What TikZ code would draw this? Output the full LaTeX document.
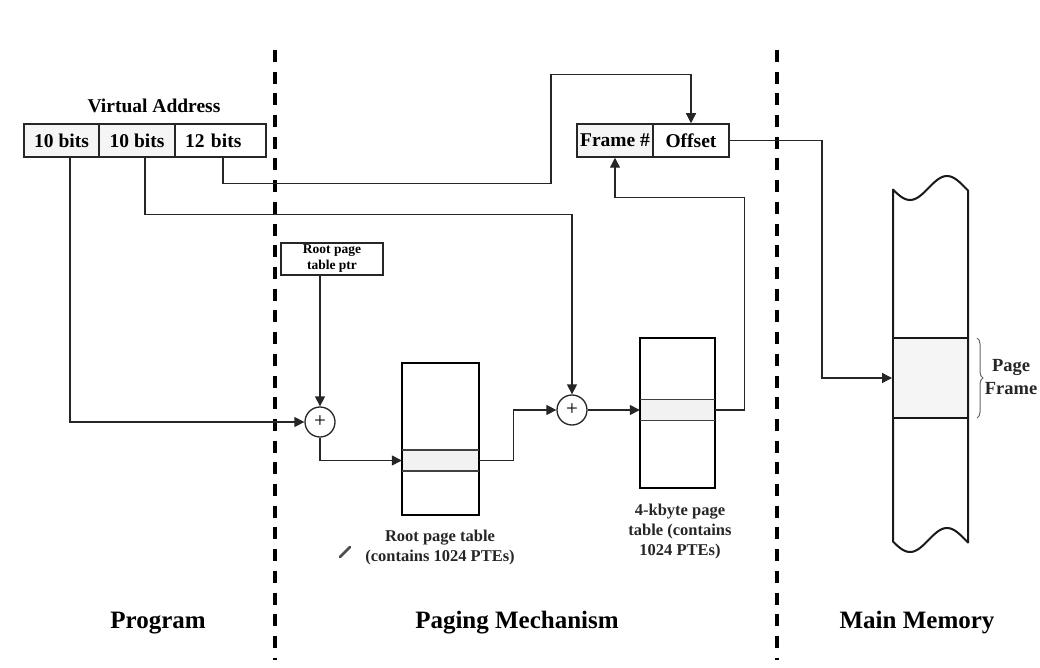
\documentclass[tikz,border=0pt]{standalone}
\usepackage{fontspec}
\setmainfont{Liberation Serif}
\usetikzlibrary{arrows.meta,calc,decorations.pathreplacing}
\begin{document}
\begin{tikzpicture}[x=1pt,y=-1pt,
  ln/.style={draw=black!85, line width=1.3pt},
  arr/.style={ln,-{Triangle[length=10pt,width=10pt]}},
  cell/.style={draw=black!85, line width=1.5pt, minimum height=33pt, inner sep=0pt, font=\fontsize{19.5}{21}\selectfont\bfseries},
  tbl/.style={draw=black, line width=2.5pt, inner sep=0pt},
  ent/.style={fill=black!5, inner sep=0pt, minimum height=21pt},
  entline/.style={draw=black!75, line width=1.5pt},
  adder/.style={circle, draw=black!85, fill=white, line width=1.3pt, minimum size=30pt, inner sep=0pt, font=\fontsize{21}{21}\selectfont},
  divider/.style={line width=4.5pt, dash pattern=on 12pt off 9.7pt},
  lbl/.style={font=\fontsize{16.5}{20}\selectfont\bfseries, align=center, text=black!85},
  sect/.style={font=\fontsize{25}{28}\selectfont\bfseries},
  mem/.style={draw=black!90, line width=2pt, line join=round}
]
\useasboundingbox (0,0) rectangle (1040,668);

% section dividers
\draw[divider] (275,50) -- (275,660);
\draw[divider] (777,50) -- (777,660);

% virtual address
\node[anchor=base, font=\fontsize{19.5}{21}\selectfont\bfseries] (vat) at (154,113) {Virtual Address};
\node[cell, fill=black!4, minimum width=75pt] (va1) at (61.5,140.5) {10 bits};
\node[cell, fill=black!4, minimum width=76pt] (va2) at (137,140.5) {10 bits};
\node[cell, fill=white, minimum width=91pt, text width=71pt, align=left, inner xsep=10pt] (va3) at (220.5,140.5) {12 bits};

% physical address
\node[cell, fill=black!4, minimum width=76pt] (frm) at (615,140.5) {Frame \#};
\node[cell, fill=white, minimum width=76pt] (off) at (691,140.5) {Offset};

% root page table pointer
\node[draw=black!85, line width=1.3pt, minimum width=102pt, minimum height=32pt, inner sep=0pt, align=center,
      font=\fontsize{13.5}{16}\selectfont\bfseries] (ptr) at (332,259) {Root page\\table ptr};

% adders
\node[adder] (add1) at (320,422) {+};
\node[adder] (add2) at (572,410) {+};

% root page table
\node[ent, minimum width=77pt] (rent) at (440.5,460.5) {};
\node[tbl, minimum width=77pt, minimum height=152pt] (rpt) at (440.5,439) {};
\draw[entline] (rent.north west) -- (rent.north east) (rent.south west) -- (rent.south east);
\node[lbl] (rptl) at (440,548) {Root page table\\(contains 1024 PTEs)};

% 4-kbyte page table
\node[ent, minimum width=75pt] (pent) at (677.5,410) {};
\node[tbl, minimum width=75pt, minimum height=150pt] (pt2) at (677.5,413) {};
\draw[entline] (pent.north west) -- (pent.north east) (pent.south west) -- (pent.south east);
\node[lbl] (pt2l) at (680,532) {4-kbyte page\\table (contains\\1024 PTEs)};

% main memory
\draw[mem, fill=white] plot[domain=-17:58, samples=60] ({910+\x},{188+12*cos(4.8649*\x)})
   -- (968,542.5) -- plot[domain=58:-17, samples=60] ({910+\x},{540+12*cos(4.8649*\x)}) -- cycle;
\node[draw=black!90, line width=2pt, fill=black!4, inner sep=0pt, minimum width=75pt, minimum height=80pt] (mfr) at (930.5,378) {};
\draw[decorate, decoration={brace, amplitude=6pt}, draw=black!60, line width=1pt] (977,338) -- (977,418);
\node[font=\fontsize{18.5}{23}\selectfont\bfseries, align=center, text=black!85] (pf) at (1011,377) {Page\\Frame};

% connectors
\draw[arr] ($(va1.south)+(8.5,0)$) |- (add1.west);
\draw[arr] ($(va2.south)+(8,0)$) -- ++(0,57) -| (add2.north);
\draw[arr] ($(va3.south)+(2.5,0)$) -- ++(0,26) -- ++(328,0) |- ($(off.north)+(0,-49)$) -- (off.north);
\draw[arr] (ptr.south -| add1.north) -- (add1.north);
\draw[arr] (add1.south) |- (rent.west);
\draw[arr] (rent.east) -- ++(34,0) |- (add2.west);
\draw[arr] (add2.east) -- (pent.west);
\draw[arr] (pent.east) -- ++(29,0) |- ($(frm.south)+(0,40)$) -- (frm.south);
\draw[arr] (off.east) -| ($(mfr.west)+(-70,0)$) -- (mfr.west);

% pencil mark
\draw[line width=2.5pt, black!70, line cap=round] (340,557) -- (350,547);

% section labels
\node[sect, anchor=base] (lp) at (158,628) {Program};
\node[sect, anchor=base] (lm) at (517,628) {Paging Mechanism};
\node[sect, anchor=base] (lmm) at (917,628) {Main Memory};
\end{tikzpicture}
\end{document}
